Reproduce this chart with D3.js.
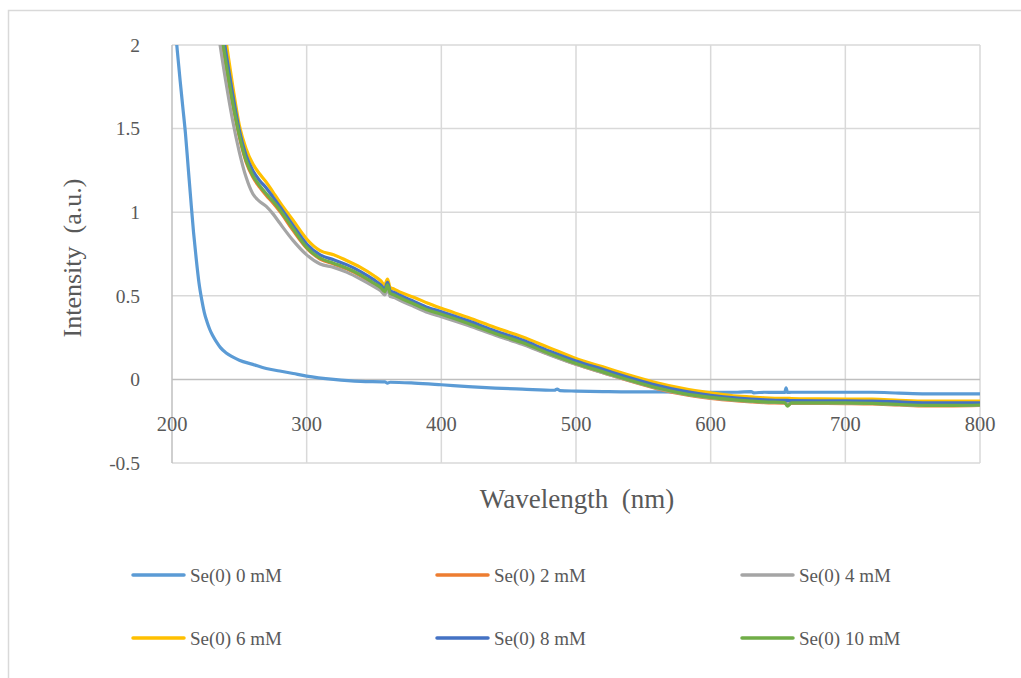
<!DOCTYPE html>
<html>
<head>
<meta charset="utf-8">
<script src="https://cdn.jsdelivr.net/npm/d3@7"></script>
<style>
  html, body { margin: 0; padding: 0; background: #fff; }
  svg { display: block; }
</style>
</head>
<body>
<svg id="chart"></svg>
<script>
// series labels + colours (Excel default palette)
const seriesNames = ['Se(0) 0 mM', 'Se(0) 2 mM', 'Se(0) 4 mM', 'Se(0) 6 mM', 'Se(0) 8 mM', 'Se(0) 10 mM'];
const seriesColors = ['#5b9bd5', '#ed7d31', '#a5a5a5', '#ffc000', '#4472c4', '#70ad47'];

const xTicks = [200, 300, 400, 500, 600, 700, 800];
const yTicks = [-0.5, 0, 0.5, 1, 1.5, 2];

// 0 mM has its own wavelength grid (steep edge below 240 nm)
const wl0 = [200, 202, 204, 206, 208, 210, 212, 214, 216, 218, 220, 222, 224, 226, 228, 230, 233, 236, 240, 245, 250, 260, 270, 280, 290, 300, 320, 340, 358, 360, 362, 380, 400, 420, 440, 460, 484, 486, 488, 500, 520, 540, 560, 580, 600, 620, 630, 632, 640, 655, 656, 657, 660, 680, 700, 720, 740, 760, 780, 800];
const se0 = [2.4, 2.15, 1.96, 1.79, 1.63, 1.47, 1.27, 1.07, 0.88, 0.72, 0.58, 0.48, 0.4, 0.345, 0.3, 0.265, 0.225, 0.19, 0.16, 0.135, 0.115, 0.09, 0.065, 0.05, 0.035, 0.02, 0.0, -0.012, -0.015, -0.022, -0.017, -0.022, -0.032, -0.043, -0.052, -0.058, -0.065, -0.058, -0.067, -0.07, -0.073, -0.075, -0.075, -0.076, -0.078, -0.077, -0.073, -0.08, -0.077, -0.078, -0.05, -0.078, -0.077, -0.077, -0.077, -0.077, -0.082, -0.086, -0.086, -0.086];

// shared wavelength grid for the Se(0)-loaded samples
const wl = [225, 230, 235, 240, 245, 250, 255, 260, 265, 270, 275, 280, 290, 300, 310, 320, 330, 340, 350, 355, 358, 360, 362, 365, 370, 380, 390, 400, 420, 440, 460, 480, 500, 520, 540, 560, 580, 600, 620, 630, 640, 655, 657, 660, 680, 700, 720, 740, 760, 780, 800];
const se2 = [2.83, 2.43, 2.14, 1.88, 1.65, 1.45, 1.3, 1.21, 1.15, 1.1, 1.055, 1.005, 0.89, 0.785, 0.72, 0.69, 0.66, 0.62, 0.57, 0.545, 0.52, 0.555, 0.51, 0.5, 0.48, 0.445, 0.41, 0.385, 0.33, 0.27, 0.215, 0.15, 0.09, 0.04, -0.01, -0.055, -0.09, -0.113, -0.128, -0.134, -0.139, -0.142, -0.15, -0.144, -0.144, -0.145, -0.147, -0.153, -0.158, -0.158, -0.156];
const se4 = [2.7, 2.35, 2.04, 1.78, 1.55, 1.36, 1.21, 1.11, 1.065, 1.035, 0.99, 0.935, 0.83, 0.745, 0.69, 0.67, 0.64, 0.6, 0.555, 0.53, 0.505, 0.545, 0.495, 0.49, 0.47, 0.435, 0.4, 0.375, 0.322, 0.264, 0.21, 0.148, 0.09, 0.04, -0.008, -0.052, -0.087, -0.11, -0.125, -0.131, -0.136, -0.139, -0.145, -0.141, -0.141, -0.142, -0.144, -0.151, -0.156, -0.156, -0.154];
const se6 = [3.0, 2.6, 2.3, 2.03, 1.76, 1.52, 1.38, 1.29, 1.23, 1.18, 1.12, 1.06, 0.95, 0.84, 0.77, 0.745, 0.71, 0.67, 0.62, 0.59, 0.565, 0.6, 0.55, 0.54, 0.52, 0.49, 0.455, 0.425, 0.37, 0.31, 0.255, 0.19, 0.125, 0.075, 0.025, -0.02, -0.055, -0.08, -0.1, -0.105, -0.11, -0.113, -0.113, -0.115, -0.117, -0.118, -0.118, -0.125, -0.13, -0.13, -0.13];
const se8 = [2.9, 2.5, 2.22, 1.96, 1.71, 1.49, 1.34, 1.25, 1.19, 1.145, 1.09, 1.035, 0.92, 0.81, 0.745, 0.715, 0.685, 0.645, 0.595, 0.565, 0.54, 0.58, 0.53, 0.52, 0.5, 0.465, 0.43, 0.405, 0.35, 0.29, 0.235, 0.17, 0.11, 0.06, 0.01, -0.035, -0.07, -0.095, -0.112, -0.118, -0.122, -0.125, -0.125, -0.127, -0.128, -0.128, -0.13, -0.135, -0.14, -0.14, -0.14];
const se10 = [2.85, 2.45, 2.16, 1.9, 1.66, 1.46, 1.31, 1.22, 1.16, 1.11, 1.065, 1.015, 0.9, 0.79, 0.725, 0.695, 0.665, 0.625, 0.575, 0.55, 0.525, 0.565, 0.515, 0.505, 0.485, 0.45, 0.415, 0.39, 0.335, 0.275, 0.22, 0.155, 0.095, 0.045, -0.005, -0.05, -0.085, -0.108, -0.124, -0.13, -0.135, -0.138, -0.16, -0.14, -0.14, -0.14, -0.143, -0.15, -0.155, -0.155, -0.153];

const W = 1021, H = 678;
const margin = { top: 45, right: 41, bottom: 215, left: 172 };
const innerWidth = W - margin.left - margin.right;
const innerHeight = H - margin.top - margin.bottom;

const textColor = '#595959';
const fontFamily = '"Liberation Serif", "Times New Roman", serif';

const svg = d3.select('#chart')
  .attr('width', W)
  .attr('height', H)
  .style('font-family', fontFamily);

// outer chart frame: only its left and top edges fall inside the picture
svg.append('path')
  .attr('d', `M8.5,${H} V10.5 H${W}`)
  .attr('fill', 'none')
  .attr('stroke', '#d9d9d9')
  .attr('stroke-width', 1.5);

const chart = svg.append('g')
  .attr('transform', `translate(${margin.left},${margin.top})`);

// scales
const x = d3.scaleLinear().domain([200, 800]).range([0, innerWidth]);
const y = d3.scaleLinear().domain([-0.5, 2]).range([innerHeight, 0]);

// gridlines
chart.append('g')
  .selectAll('line')
  .data(yTicks.filter(d => d !== 0))
  .join('line')
    .attr('x1', 0).attr('x2', innerWidth)
    .attr('y1', d => y(d)).attr('y2', d => y(d))
    .attr('stroke', '#d9d9d9').attr('stroke-width', 1.5);

chart.append('g')
  .selectAll('line')
  .data(xTicks.filter(d => d !== 200))
  .join('line')
    .attr('x1', d => x(d)).attr('x2', d => x(d))
    .attr('y1', 0).attr('y2', innerHeight)
    .attr('stroke', '#d9d9d9').attr('stroke-width', 1.5);

// axis lines: vertical at 200 nm, horizontal at y = 0
chart.append('line')
  .attr('x1', x(200)).attr('x2', x(200))
  .attr('y1', 0).attr('y2', innerHeight)
  .attr('stroke', '#bfbfbf').attr('stroke-width', 1.5);

chart.append('line')
  .attr('x1', 0).attr('x2', innerWidth)
  .attr('y1', y(0)).attr('y2', y(0))
  .attr('stroke', '#bfbfbf').attr('stroke-width', 1.5);

// series
const series = [
  { wl: wl0, v: se0 },
  { wl: wl, v: se2 },
  { wl: wl, v: se4 },
  { wl: wl, v: se6 },
  { wl: wl, v: se8 },
  { wl: wl, v: se10 }
].map((s, i) => ({
  name: seriesNames[i],
  color: seriesColors[i],
  points: s.wl.map((w, j) => [w, s.v[j]])
}));

svg.append('defs')
  .append('clipPath')
  .attr('id', 'plot-clip')
  .append('rect')
    .attr('x', 0).attr('y', 0)
    .attr('width', innerWidth).attr('height', innerHeight);

const line = d3.line()
  .x(d => x(d[0]))
  .y(d => y(d[1]))
  .curve(d3.curveMonotoneX);

chart.append('g')
  .attr('clip-path', 'url(#plot-clip)')
  .selectAll('path')
  .data(series)
  .join('path')
    .attr('d', d => line(d.points))
    .attr('fill', 'none')
    .attr('stroke', d => d.color)
    .attr('stroke-width', 3.2)
    .attr('stroke-linejoin', 'round')
    .attr('stroke-linecap', 'round');

// tick labels (drawn after the marks)
const labels = svg.append('g');

labels.append('g')
  .selectAll('text')
  .data(yTicks)
  .join('text')
    .attr('x', margin.left - 32)
    .attr('y', d => margin.top + y(d))
    .attr('dy', '0.35em')
    .attr('text-anchor', 'end')
    .attr('fill', textColor)
    .style('font-size', '19.5px')
    .text(d => d);

labels.append('g')
  .selectAll('text')
  .data(xTicks)
  .join('text')
    .attr('x', d => margin.left + x(d))
    .attr('y', margin.top + y(0) + 52)
    .attr('text-anchor', 'middle')
    .attr('fill', textColor)
    .style('font-size', '20.5px')
    .text(d => d);

// axis titles
labels.append('text')
  .attr('x', margin.left + innerWidth / 2 + 1)
  .attr('y', 508)
  .attr('text-anchor', 'middle')
  .attr('fill', textColor)
  .style('font-size', '27px')
  .text('Wavelength\u00a0\u00a0(nm)');

labels.append('text')
  .attr('transform', 'translate(81,258) rotate(-90)')
  .attr('text-anchor', 'middle')
  .attr('fill', textColor)
  .style('font-size', '26px')
  .text('Intensity\u00a0\u00a0(a.u.)');

// legend: 3 columns x 2 rows
const legendCols = [133, 437, 742];
const legendRows = [575, 638];

const legend = svg.append('g')
  .selectAll('g')
  .data(series)
  .join('g')
    .attr('transform', (d, i) => `translate(${legendCols[i % 3]},${legendRows[Math.floor(i / 3)]})`);

legend.append('line')
  .attr('x1', 0).attr('x2', 51)
  .attr('y1', 0).attr('y2', 0)
  .attr('stroke', d => d.color)
  .attr('stroke-width', 3.5)
  .attr('stroke-linecap', 'round');

legend.append('text')
  .attr('x', 57)
  .attr('y', 0)
  .attr('dy', '0.35em')
  .attr('fill', textColor)
  .style('font-size', '19px')
  .text(d => d.name);
</script>
</body>
</html>
